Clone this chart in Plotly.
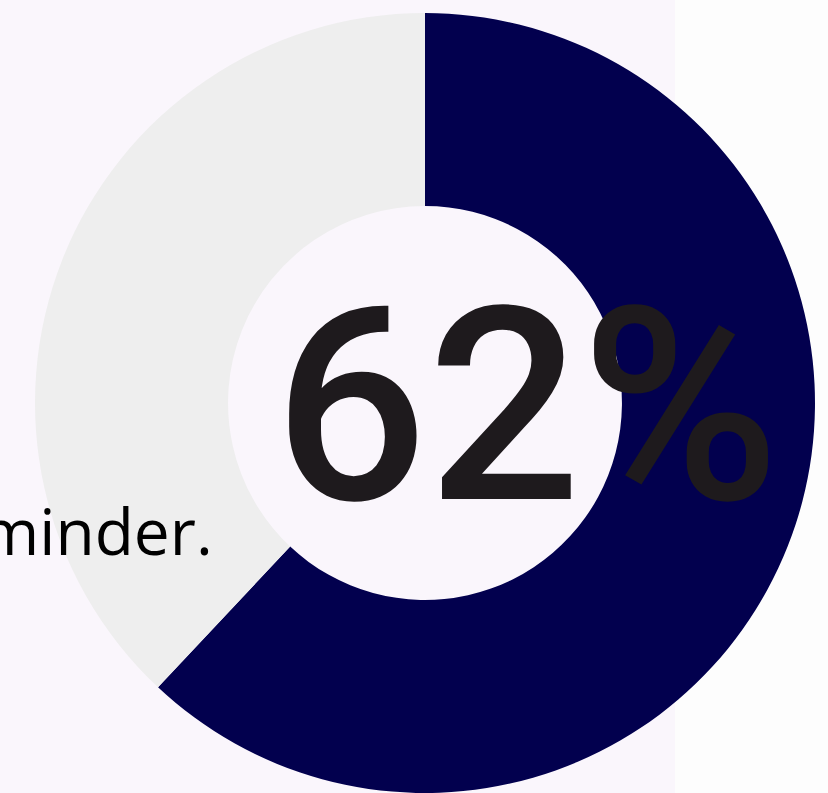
import plotly.graph_objects as go

labels = ["Yes", "No"]
values = [62, 38]
colors = ["#02004e", "#eeeeee"]
center_label = "62%"
side_text = "minder."

W, H = 828, 793

fig = go.Figure()
fig.add_trace(go.Pie(
    labels=labels, values=values, hole=0.505, sort=False,
    direction="clockwise", rotation=0,
    marker=dict(colors=colors, line=dict(width=0)),
    textinfo="none", hoverinfo="label+percent", showlegend=False,
    domain=dict(x=[33 / W, 817 / W], y=[0, 780 / H]),
))

fig.add_shape(type="rect", xref="paper", yref="paper", x0=0, x1=675 / W, y0=0, y1=1,
              fillcolor="#faf6fc", line=dict(width=0), layer="below")

fig.add_annotation(text=center_label, xref="paper", yref="paper",
                   x=527 / W, y=1 - 407 / H, xanchor="center", yanchor="middle",
                   showarrow=False,
                   font=dict(family="Roboto", size=270, color="#1e1a1d", weight=500))
fig.add_annotation(text=side_text, xref="paper", yref="paper",
                   x=215 / W, y=1 - 530 / H, xanchor="right", yanchor="middle",
                   showarrow=False, font=dict(family="Open Sans", size=64, color="#000000"))

fig.update_layout(width=W, height=H, margin=dict(l=0, r=0, t=0, b=0),
                  paper_bgcolor="#fdfdfd", plot_bgcolor="#fdfdfd")
fig.write_html("out.html", config={"displayModeBar": False},
               post_script="document.body.style.margin='0';document.body.style.padding='0';")
